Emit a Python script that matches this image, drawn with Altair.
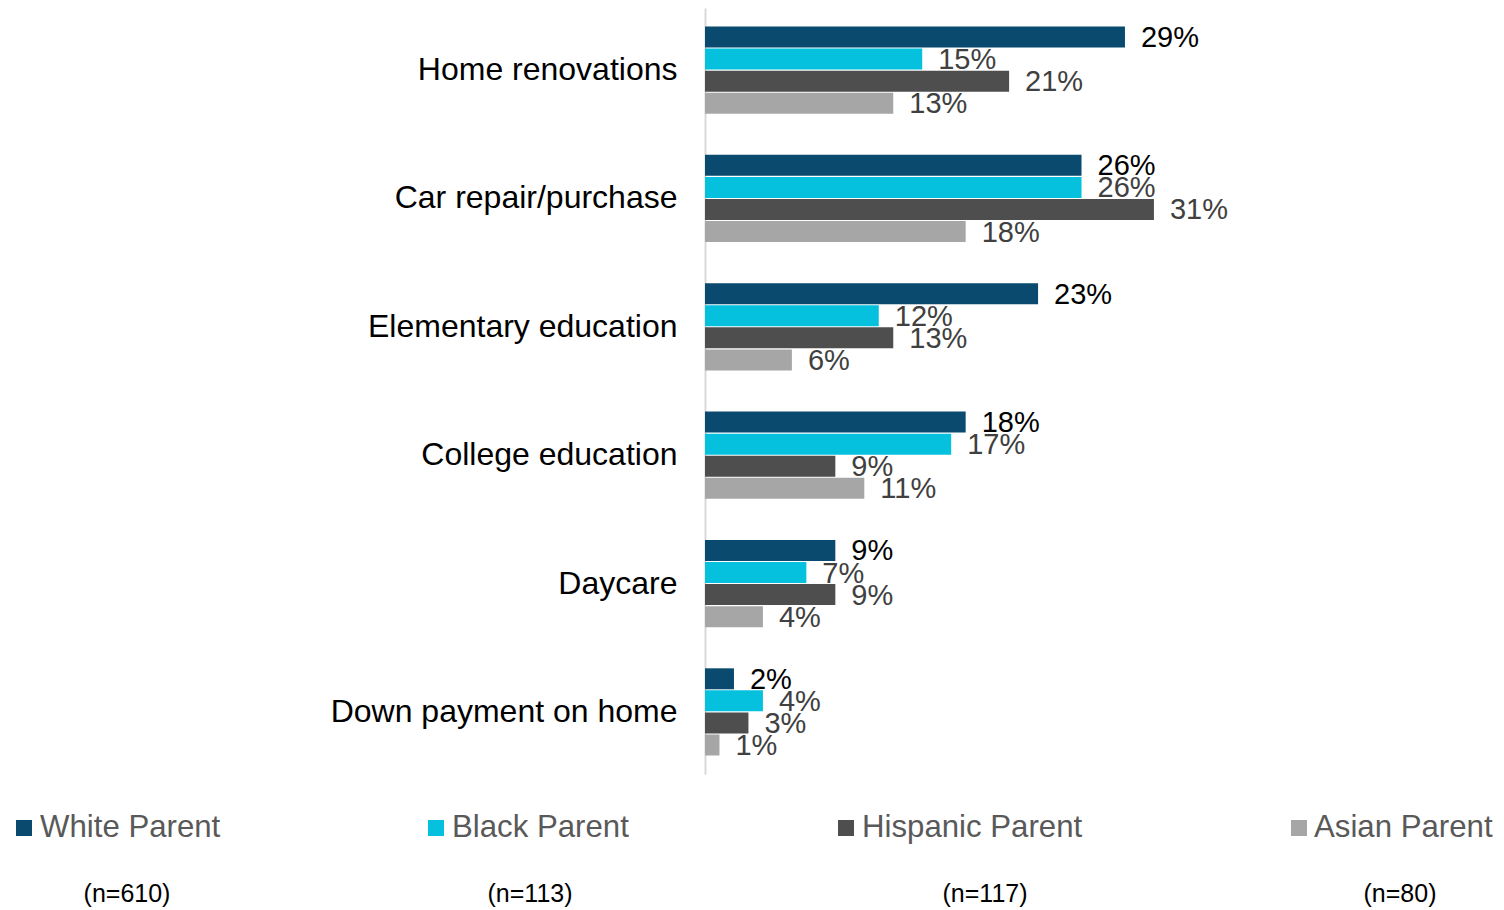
import altair as alt
import pandas as pd

# ---- data ----
categories = ["Home renovations", "Car repair/purchase", "Elementary education",
              "College education", "Daycare", "Down payment on home"]
series = ["White Parent", "Black Parent", "Hispanic Parent", "Asian Parent"]
sample_sizes = ["(n=610)", "(n=113)", "(n=117)", "(n=80)"]
white = [29, 26, 23, 18, 9, 2]
black = [15, 26, 12, 17, 7, 4]
hispanic = [21, 31, 13, 9, 9, 3]
asian = [13, 18, 6, 11, 4, 1]

# ---- styles / layout ----
colors = ["#094A6E", "#06C1DE", "#4E4E4E", "#A6A6A6"]
FONT = "Liberation Sans"
PLOT_LEFT_PAGE = 705   # page x of plot origin
PLOT_TOP_PAGE = 8
legend_sq_x_page = [24, 436, 846, 1299]
legend_txt_x_page = [40, 452, 862, 1314]
legend_n_x_page = [127, 530, 985, 1400]
legend_y_page = 828
legend_n_y_page = 894

rows = []
for s, vals in zip(series, [white, black, hispanic, asian]):
    for c, v in zip(categories, vals):
        rows.append({"category": c, "series": s, "value": v, "label": f"{v}%"})
df = pd.DataFrame(rows)

leg = pd.DataFrame({
    "series": series,
    "n": sample_sizes,
    "sqx": [x - PLOT_LEFT_PAGE for x in legend_sq_x_page],
    "tx": [x - PLOT_LEFT_PAGE for x in legend_txt_x_page],
    "nx": [x - PLOT_LEFT_PAGE for x in legend_n_x_page],
    "ly": [legend_y_page - PLOT_TOP_PAGE] * 4,
    "ny": [legend_n_y_page - PLOT_TOP_PAGE] * 4,
})

color_scale = alt.Scale(domain=series, range=colors)
xscale = alt.Scale(domain=[0, 54], nice=False)
yscale = alt.Scale(paddingInner=0.3125, paddingOuter=0.14, align=0.5)
yaxis = alt.Axis(title=None, ticks=False, labelFontSize=32, labelColor="black",
                 labelFont=FONT, labelPadding=28, domainColor="#D9D9D9",
                 domainWidth=2, labelLimit=500)
yoff = alt.YOffset("series:N", sort=series, scale=alt.Scale(domain=series, paddingInner=0, paddingOuter=0))

base = alt.Chart(df)
bars = base.mark_bar(size=21).encode(
    x=alt.X("value:Q", scale=xscale, axis=None),
    y=alt.Y("category:N", sort=categories, scale=yscale, axis=yaxis),
    yOffset=yoff,
    color=alt.Color("series:N", scale=color_scale, legend=None),
)
labels = base.mark_text(align="left", baseline="middle", dx=16, dy=1, fontSize=29, font=FONT).encode(
    x=alt.X("value:Q", scale=xscale, axis=None),
    y=alt.Y("category:N", sort=categories, scale=yscale, axis=yaxis),
    yOffset=yoff,
    text="label:N",
    color=alt.condition(alt.datum.series == "White Parent", alt.value("#000000"), alt.value("#404040")),
)
main = alt.layer(bars, labels)

lbase = alt.Chart(leg)
sq = lbase.mark_square(size=256, opacity=1).encode(
    x=alt.X("sqx:Q", scale=None, axis=None),
    y=alt.Y("ly:Q", scale=None, axis=None),
    color=alt.Color("series:N", scale=color_scale, legend=None),
)
ltxt = lbase.mark_text(align="left", baseline="middle", fontSize=31.2, font=FONT, color="#595959").encode(
    x=alt.X("tx:Q", scale=None, axis=None),
    y=alt.Y("ly:Q", scale=None, axis=None),
    text="series:N",
)
ntxt = lbase.mark_text(align="center", baseline="middle", fontSize=25, font=FONT, color="#000000").encode(
    x=alt.X("nx:Q", scale=None, axis=None),
    y=alt.Y("ny:Q", scale=None, axis=None),
    text="n:N",
)
legend = alt.layer(sq, ltxt, ntxt)

chart = alt.layer(main, legend).resolve_scale(x="independent", y="independent").properties(
    width=782, height=766,
    padding={"left": 697, "top": 0, "right": 9, "bottom": 136},
    autosize=alt.AutoSizeParams(type="none"),
    background="white",
).configure_view(strokeWidth=0, stroke="transparent")

chart.save("out.html", embed_options={"renderer": "svg", "actions": False})
